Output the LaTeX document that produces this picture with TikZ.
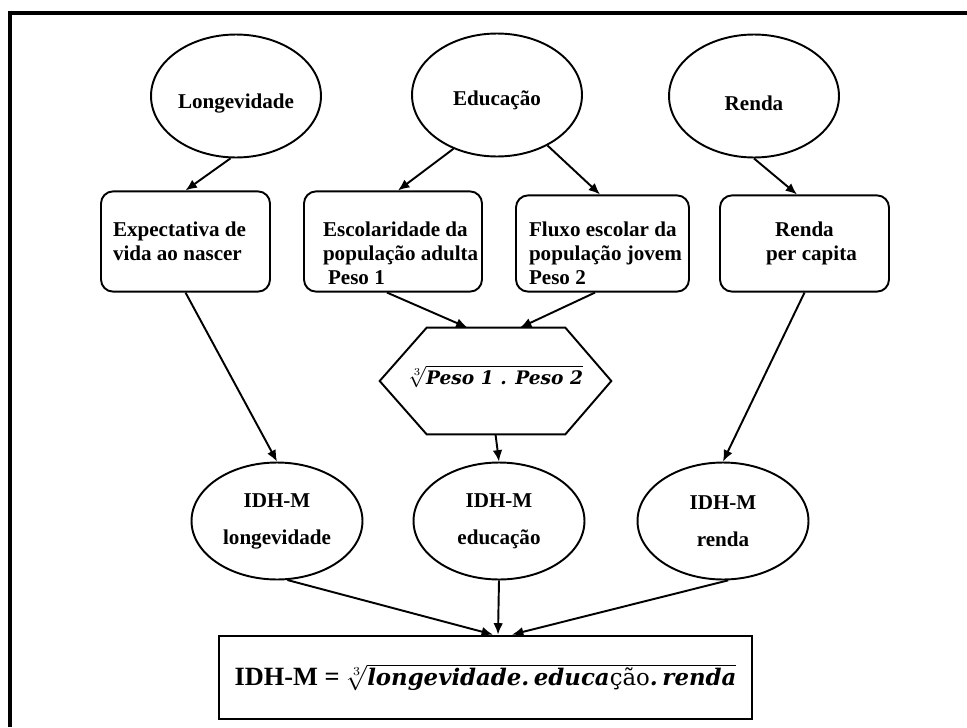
\documentclass[tikz,border=0pt]{standalone}
\usepackage{fontspec}
\setmainfont{Liberation Serif}
\newfontfamily\eqfont{DejaVu Serif}
\usetikzlibrary{arrows.meta,shapes.geometric}

% shift a label vertically without changing the size of its node
\newcommand{\shiftlabel}[2]{\raisebox{#1}[\height][\depth]{#2}}

\begin{document}
\begin{tikzpicture}[x=0.02cm,y=-0.02cm,
  every node/.style={font=\bfseries\fontsize{12}{13.7}\selectfont},
  link/.style={line width=1.1pt,-{Latex[length=6.5pt,width=5.5pt]}},
  topell/.style={draw,ellipse,line width=1.1pt,minimum width=3.4cm,
    minimum height=2.46cm,inner sep=0pt},
  idhell/.style={draw,ellipse,line width=1.1pt,minimum width=3.42cm,
    minimum height=2.34cm,inner sep=0pt,align=center,
    font=\bfseries\fontsize{12}{21}\selectfont},
  infobox/.style={draw,rounded corners=0.24cm,line width=1.1pt,inner sep=0pt},
  hexline/.style={line width=1.1pt,line join=miter},
]
\useasboundingbox (0,0) rectangle (967,727);

% outer frame (top and left edges)
\draw[line width=2.8pt] (10,727) -- (10,13) -- (967,13);

% three dimensions
\node[topell] (lon) at (236,96) {\shiftlabel{-4pt}{Longevidade}};
\node[topell] (edu) at (497,95) {\shiftlabel{-3pt}{Educação}};
\node[topell] (ren) at (754,96) {\shiftlabel{-4pt}{Renda}};

% indicators
\node[infobox,minimum width=3.38cm,minimum height=1.86cm] (b1) at (185.5,241.5)
  {\parbox[c][1.86cm][b]{2.9cm}{\mbox{Expectativa de}\strut\\\mbox{vida ao nascer}\strut\\\strut}};
\node[infobox,minimum width=3.56cm,minimum height=1.86cm] (b2) at (393,241.5)
  {\parbox[c][1.86cm][b]{2.8cm}{\mbox{Escolaridade da}\strut\\\mbox{população adulta}\strut\\\hspace*{0.1cm}\mbox{Peso 1}\strut}};
\node[infobox,minimum width=3.46cm,minimum height=1.78cm] (b3) at (602.5,243.5)
  {\parbox[c][1.78cm][b]{2.94cm}{\mbox{Fluxo escolar da}\strut\\\mbox{população jovem}\strut\\\mbox{Peso 2}\strut}};
\node[infobox,minimum width=3.38cm,minimum height=1.78cm] (b4) at (804.5,243.5)
  {\parbox[c][1.78cm][b]{2.9cm}{\centering Renda\strut\\\hspace*{0.28cm}per capita\strut\\\strut}};

% geometric mean of the two education weights
\node[minimum width=4.62cm,minimum height=2.12cm,inner sep=0pt] (hex) at (495.5,381)
  {\shiftlabel{2.5pt}{$\sqrt[3]{\mbox{\eqfont\bfseries\itshape\fontsize{10.6}{12}\selectfont Peso 1 . Peso 2}}$}};
\draw[hexline] (hex.west) -- ([xshift=0.94cm]hex.north west) -- ([xshift=-0.92cm]hex.north east)
  -- (hex.east) -- ([xshift=-0.92cm]hex.south east) -- ([xshift=0.94cm]hex.south west) -- cycle;

% partial indices
\node[idhell] (e1) at (277,521) {IDH-M\\longevidade};
\node[idhell] (e2) at (499,521) {IDH-M\\educação};
\node[idhell] (e3) at (723,521) {IDH-M\\renda};

% final index
\node[draw,line width=1.6pt,minimum width=10.66cm,minimum height=1.66cm,inner sep=0pt,
  font=\bfseries\fontsize{15}{18}\selectfont] (bot) at (485.5,677.5)
  {IDH-M = $\sqrt[3]{\mbox{\eqfont\fontsize{13}{16}\selectfont\bfseries\itshape
   longevidade.\hspace{0.2em}educa{\mdseries\upshape ção}.\hspace{0.2em}renda}}$};

% connectors
\draw[link] (lon.-95) -- (b1.north);
\draw[link] (edu.-129) -- ([xshift=0.1cm]b2.north);
\draw[link] (edu.-45) -- ([xshift=-0.05cm]b3.north);
\draw[link] (ren.south) -- ([xshift=-0.15cm]b4.north);
\draw[link] ([xshift=-0.12cm]b2.south) -- ([xshift=-0.56cm]hex.north);
\draw[link] ([xshift=-0.15cm]b3.south) -- ([xshift=0.49cm]hex.north);
\draw[link] (b1.south) -- (e1.north);
\draw[link] (hex.south) -- (e2.north);
\draw[link] (b4.south) -- (e3.north);
\draw[link] (e1.-80) -- ([xshift=0.15cm]bot.north);
\draw[link] (e2.south) -- ([xshift=0.25cm]bot.north);
\draw[link] (e3.-85) -- ([xshift=0.53cm]bot.north);
\end{tikzpicture}
\end{document}
